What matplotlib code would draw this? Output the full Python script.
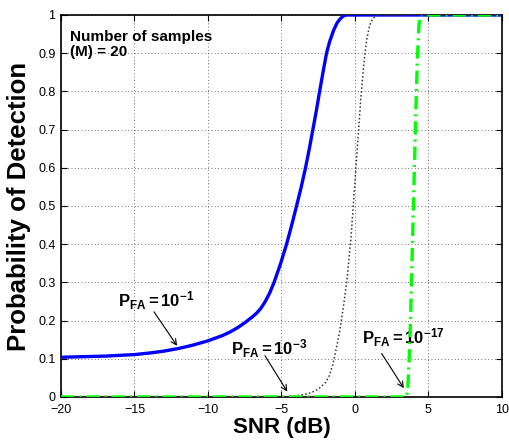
import numpy as np
import matplotlib
matplotlib.use('Agg')
import matplotlib.pyplot as plt

plt.rcParams['font.family'] = ['Liberation Sans', 'DejaVu Sans']
plt.rcParams['mathtext.fontset'] = 'custom'
plt.rcParams['mathtext.rm'] = 'Liberation Sans:bold'
plt.rcParams['mathtext.it'] = 'Liberation Sans:bold'
plt.rcParams['mathtext.bf'] = 'Liberation Sans:bold'

# values
snr_pfa1 = [-20, -18, -17, -16, -15, -14, -13, -12, -11, -10, -9, -8.5, -8, -7.5, -7,
            -6.7, -6.4, -6.1, -5.8, -5.5, -5.05, -4.65, -4.3, -3.97, -3.65, -3.36,
            -3.1, -2.86, -2.62, -2.40, -2.17, -1.93, -1.72, -1.45, -1.2, -1.0, -0.8,
            -0.6, 0, 10]
pd_pfa1 = [0.104, 0.106, 0.107, 0.109, 0.111, 0.115, 0.120, 0.127, 0.136, 0.147,
           0.161, 0.170, 0.181, 0.194, 0.209, 0.219, 0.232, 0.250, 0.272, 0.300,
           0.350, 0.400, 0.450, 0.500, 0.550, 0.600, 0.650, 0.700, 0.750, 0.800,
           0.850, 0.900, 0.930, 0.960, 0.980, 0.990, 0.997, 1.0, 1.0, 1.0]

snr_pfa3 = [-20, -4.6, -4, -3.5, -3, -2.5, -2, -1.75, -1.5, -1.25, -1, -0.75, -0.5,
            -0.25, 0, 0.2, 0.4, 0.6, 0.8, 1.0, 1.2, 1.4, 1.6, 10]
pd_pfa3 = [0, 0, 0.003, 0.006, 0.011, 0.020, 0.038, 0.055, 0.085, 0.130, 0.180, 0.245,
           0.320, 0.425, 0.560, 0.670, 0.780, 0.870, 0.935, 0.972, 0.990, 0.997, 1.0, 1.0]

snr_pfa17 = [-20, 3.5, 3.6, 3.75, 3.85, 3.95, 4.05, 4.15, 4.25, 4.35, 4.45, 10]
pd_pfa17 = [0, 0, 0.02, 0.15, 0.30, 0.45, 0.60, 0.75, 0.88, 0.97, 1.0, 1.0]

xticks = [-20, -15, -10, -5, 0, 5, 10]
xticklabels = ['\u221220', '\u221215', '\u221210', '\u22125', '0', '5', '10']
yticks = [0, 0.1, 0.2, 0.3, 0.4, 0.5, 0.6, 0.7, 0.8, 0.9, 1]
yticklabels = ['0', '0.1', '0.2', '0.3', '0.4', '0.5', '0.6', '0.7', '0.8', '0.9', '1']

fig = plt.figure(figsize=(5.10, 4.41), dpi=100)
ax = fig.add_axes([0.1196, 0.0998, 0.8644, 0.8662])

ax.plot(snr_pfa1, pd_pfa1, color='#0000ff', lw=2.4, zorder=3)
ax.plot(snr_pfa3, pd_pfa3, color='#333333', lw=1.1, ls=(0, (1, 1.5)), zorder=3)
ax.plot(snr_pfa17, pd_pfa17, color='#00ff00', lw=2.4, ls=(0, (4, 1.5, 0.6, 1.5)), zorder=4)

ax.set_xlim(-20, 10)
ax.set_ylim(0, 1)
ax.set_xticks(xticks)
ax.set_xticklabels(xticklabels)
ax.set_yticks(yticks)
ax.set_yticklabels(yticklabels)
ax.tick_params(direction='in', top=True, right=True, labelsize=9, length=4, width=0.8)
ax.tick_params(axis='x', pad=5)
ax.tick_params(axis='y', pad=4)
ax.grid(True, color='#444444', ls=(0, (1, 3)), lw=0.6)
for s in ax.spines.values():
    s.set_linewidth(1.2)

ax.set_xlabel('SNR (dB)', fontsize=16, fontweight='bold', labelpad=1)
ax.set_ylabel('Probability of Detection', fontsize=18.5, fontweight='bold', labelpad=5)

ax.text(-19.4, 0.962, 'Number of samples\n(M) = 20', fontsize=11, fontweight='bold',
        ha='left', va='top', linespacing=1.15)

arrow = dict(arrowstyle='->', color='black', lw=0.8, shrinkA=0, shrinkB=0)
ax.text(-16.1, 0.237, r'$P_{FA} = 10^{-1}$', fontsize=12, ha='left', va='baseline')
ax.annotate('', xy=(-12.1, 0.134), xytext=(-13.67, 0.223), arrowprops=arrow)
ax.text(-8.44, 0.11, r'$P_{FA} = 10^{-3}$', fontsize=12, ha='left', va='baseline')
ax.annotate('', xy=(-4.6, 0.014), xytext=(-6.12, 0.108), arrowprops=arrow)
ax.text(0.45, 0.14, r'$P_{FA} = 10^{-17}$', fontsize=12, ha='left', va='baseline')
ax.annotate('', xy=(3.33, 0.023), xytext=(1.82, 0.114), arrowprops=arrow)

fig.savefig('out.png', dpi=100)
